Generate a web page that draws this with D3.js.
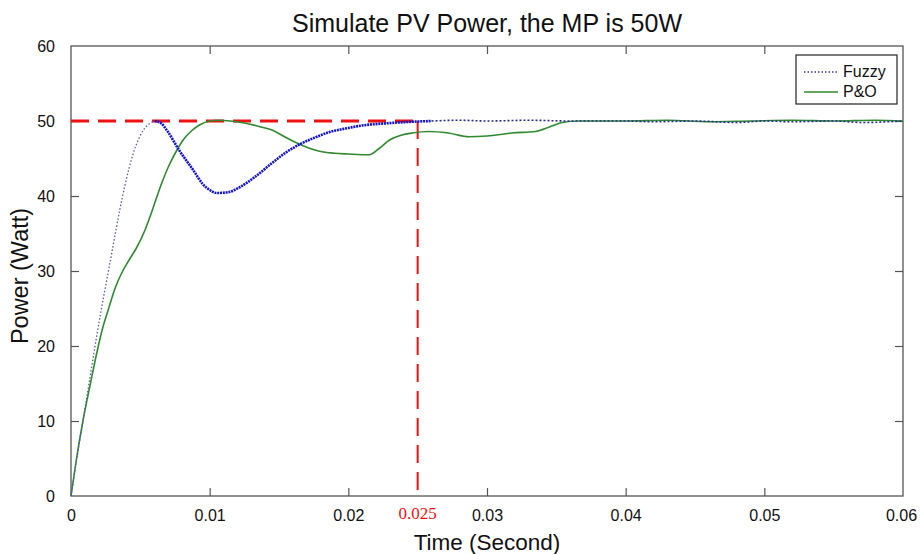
<!DOCTYPE html>
<html>
<head>
<meta charset="utf-8">
<script src="https://cdn.jsdelivr.net/npm/d3@7"></script>
<style>
  body { margin: 0; background: #fff; }
  svg { font-family: "Liberation Sans", Arial, sans-serif; }
</style>
</head>
<body>
<div id="chart"></div>
<script>
// data
const xTicks = [0, 0.01, 0.02, 0.03, 0.04, 0.05, 0.06];
const yTicks = [0, 10, 20, 30, 40, 50, 60];
const mpp = 50;
const markTime = 0.025;

const fuzzyTime = [0, 0.0004, 0.00086, 0.0013, 0.0017, 0.0021, 0.0026, 0.003, 0.0035, 0.0039, 0.0042, 0.0047, 0.0053, 0.0057, 0.00604,
  0.0065, 0.0069, 0.0078, 0.0088, 0.0095, 0.01, 0.0105, 0.0113, 0.0122, 0.0133, 0.0145, 0.0155, 0.0165, 0.0176, 0.0186, 0.0198,
  0.021, 0.0228, 0.0246, 0.026, 0.028, 0.03, 0.033, 0.036, 0.04, 0.042, 0.045, 0.048, 0.05, 0.052, 0.055, 0.057, 0.06];
const fuzzyPower = [0, 4.8, 10, 15, 19.6, 24, 29, 33, 38, 41.5, 43.8, 46.8, 49, 49.7, 50,
  49.7, 48.8, 46.1, 43.5, 41.6, 40.8, 40.4, 40.5, 41.2, 42.6, 44.4, 45.8, 46.9, 47.8, 48.5, 49,
  49.4, 49.7, 49.9, 50, 50.1, 50, 50.1, 50, 50, 49.9, 50, 49.8, 50, 49.9, 50, 49.8, 50];

const poTime = [0, 0.0004, 0.00086, 0.0014, 0.00197, 0.0023, 0.00268, 0.0032, 0.0037, 0.0042, 0.0047, 0.0053, 0.0059, 0.0065, 0.0071,
  0.0076, 0.0081, 0.0087, 0.0093, 0.01, 0.0106, 0.0115, 0.0126, 0.0135, 0.0145, 0.0155, 0.0165, 0.0173, 0.0181, 0.019, 0.02, 0.0215,
  0.0222, 0.023, 0.0238, 0.0246, 0.0258, 0.0272, 0.0287, 0.03, 0.0318, 0.0335, 0.0345, 0.0354, 0.0366, 0.04, 0.043, 0.046, 0.049,
  0.052, 0.055, 0.058, 0.06];
const poPower = [0, 5, 10, 15, 20, 22.5, 24.8, 27.8, 29.9, 31.5, 33, 35.3, 38.3, 41.5, 44.2,
  46, 47.5, 48.7, 49.5, 50, 50.1, 50, 49.7, 49.3, 48.8, 47.8, 46.9, 46.3, 45.9, 45.7, 45.6, 45.5,
  46.3, 47.5, 48.1, 48.4, 48.6, 48.4, 47.9, 48, 48.4, 48.6, 49.2, 49.8, 50, 50, 50.1, 49.9, 50,
  50.1, 50, 50.1, 50];

const width = 920, height = 554;
const margin = { top: 46, right: 17, bottom: 58, left: 71 };

const svg = d3.select('#chart').append('svg')
  .attr('width', width)
  .attr('height', height);

const x = d3.scaleLinear().domain([0, 0.06]).range([margin.left, width - margin.right]);
const y = d3.scaleLinear().domain([0, 60]).range([height - margin.bottom, margin.top]);

const axisColor = '#555';
const tickLen = 8;
const sans = '"Liberation Sans", Arial, sans-serif';

// frame
svg.append('rect')
  .attr('x', x(0)).attr('y', y(60))
  .attr('width', x(0.06) - x(0)).attr('height', y(0) - y(60))
  .attr('fill', 'none').attr('stroke', axisColor).attr('stroke-width', 1.3);

// ticks inside on all four sides
function styleAxis(g, size) {
  g.attr('font-family', sans);
  g.select('.domain').remove();
  g.selectAll('.tick line').attr('stroke', axisColor).attr('stroke-width', 1.2);
  g.selectAll('.tick text').attr('font-size', size).attr('fill', '#111');
}
const fmtX = d => d === 0 ? '0' : d3.format('.2f')(d);
svg.append('g').attr('transform', `translate(0,${y(0)})`)
  .call(d3.axisBottom(x).tickValues(xTicks).tickFormat(fmtX).tickSizeInner(-tickLen).tickPadding(tickLen + 6))
  .call(g => styleAxis(g, 16))
  .call(g => g.selectAll('.tick text').filter(d => d === 0.06).attr('dx', -2));
svg.append('g').attr('transform', `translate(0,${y(60)})`)
  .call(d3.axisTop(x).tickValues(xTicks).tickFormat('').tickSizeInner(-tickLen))
  .call(g => styleAxis(g, 16));
svg.append('g').attr('transform', `translate(${x(0)},0)`)
  .call(d3.axisLeft(y).tickValues(yTicks).tickSizeInner(-tickLen).tickPadding(tickLen + 8))
  .call(g => styleAxis(g, 16));
svg.append('g').attr('transform', `translate(${x(0.06)},0)`)
  .call(d3.axisRight(y).tickValues(yTicks).tickFormat('').tickSizeInner(-tickLen))
  .call(g => styleAxis(g, 16));

// remove ticks sitting on the frame corners
svg.selectAll('.tick').filter(d => d === 0 || d === 0.06 || d === 60).select('line').remove();

// red marker lines
svg.append('path')
  .attr('d', `M${x(0)},${y(mpp)}H${x(markTime)}`)
  .attr('stroke', '#ee1111').attr('stroke-width', 3).attr('stroke-dasharray', '18,9').attr('fill', 'none');
svg.append('path')
  .attr('d', `M${x(markTime)},${y(mpp)}V${y(0)}`)
  .attr('stroke', '#ee1111').attr('stroke-width', 2).attr('stroke-dasharray', '18,9').attr('fill', 'none');

const line = d3.line().x(d => x(d[0])).y(d => y(d[1])).curve(d3.curveMonotoneX);
const fuzzy = fuzzyTime.map((t, i) => [t, fuzzyPower[i]]);
const po = poTime.map((t, i) => [t, poPower[i]]);

// P&O
svg.append('path').datum(po)
  .attr('d', line).attr('fill', 'none')
  .attr('stroke', '#2f8a2f').attr('stroke-width', 1.6);

// Fuzzy: thin light dotted rise, bold blue after the peak
svg.append('path').datum(fuzzy.filter(d => d[0] <= 0.00604))
  .attr('d', line).attr('fill', 'none')
  .attr('stroke', '#5a5aa8').attr('stroke-width', 1.3).attr('stroke-dasharray', '1.5,2');
svg.append('path').datum(fuzzy.filter(d => d[0] >= 0.00604 && d[0] <= 0.026))
  .attr('d', line).attr('fill', 'none')
  .attr('stroke', '#1414c8').attr('stroke-width', 2.6).attr('stroke-dasharray', '2,0.8');
svg.append('path').datum(fuzzy.filter(d => d[0] >= 0.026))
  .attr('d', line).attr('fill', 'none')
  .attr('stroke', '#2a2aa0').attr('stroke-width', 1.6).attr('stroke-dasharray', '2,2');

// red 0.025 label
svg.append('text')
  .attr('x', x(markTime)).attr('y', y(0) + 23)
  .attr('text-anchor', 'middle')
  .style('font-family', '"Liberation Serif", "Times New Roman", serif')
  .attr('font-size', 17).attr('fill', '#ee1111')
  .text('0.025');

// title and axis labels
svg.append('text')
  .attr('x', (x(0) + x(0.06)) / 2).attr('y', 32)
  .attr('text-anchor', 'middle').attr('font-size', 25).attr('fill', '#111')
  .text('Simulate PV Power, the MP is 50W');
svg.append('text')
  .attr('x', (x(0) + x(0.06)) / 2).attr('y', 550)
  .attr('text-anchor', 'middle').attr('font-size', 22.5).attr('fill', '#111')
  .text('Time (Second)');
svg.append('text')
  .attr('transform', `translate(28,276) rotate(-90)`)
  .attr('text-anchor', 'middle').attr('font-size', 23.5).attr('fill', '#111')
  .text('Power (Watt)');

// legend
const lg = svg.append('g').attr('transform', 'translate(796,55)');
lg.append('rect').attr('width', 101).attr('height', 49)
  .attr('fill', '#fff').attr('stroke', '#222').attr('stroke-width', 1.2);
lg.append('line').attr('x1', 8).attr('x2', 42).attr('y1', 17).attr('y2', 17)
  .attr('stroke', '#3a3a90').attr('stroke-width', 1.3).attr('stroke-dasharray', '1.5,2');
lg.append('text').attr('x', 47).attr('y', 22).attr('font-size', 16).attr('fill', '#111').text('Fuzzy');
lg.append('line').attr('x1', 8).attr('x2', 42).attr('y1', 37).attr('y2', 37)
  .attr('stroke', '#2f8a2f').attr('stroke-width', 1.6);
lg.append('text').attr('x', 47).attr('y', 42).attr('font-size', 16).attr('fill', '#111').text('P&O');
</script>
</body>
</html>
